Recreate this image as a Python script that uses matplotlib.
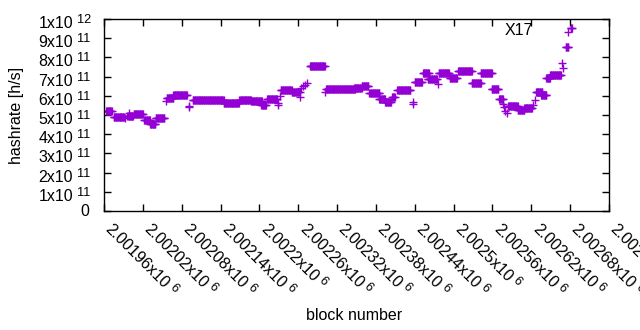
#!/usr/bin/env python3

import matplotlib
matplotlib.use("Agg")
import matplotlib.pyplot as plt
from matplotlib.transforms import offset_copy
import numpy as np

# plateaus of the hashrate estimate: first block, last block, hashrate (x10^11 h/s)
seg_first = [2001963, 2001975, 2001992, 2001996, 2001999, 2002006, 2002022, 2002031,
             2002040, 2002056, 2002057, 2002067, 2002091, 2002092, 2002097, 2002145,
             2002169, 2002187, 2002203, 2002212, 2002228, 2002229, 2002232, 2002233,
             2002250, 2002263, 2002264, 2002267, 2002270, 2002274, 2002278, 2002302,
             2002303, 2002346, 2002358, 2002370, 2002371, 2002385, 2002394, 2002405,
             2002413, 2002437, 2002438, 2002440, 2002453, 2002460, 2002476, 2002477,
             2002494, 2002507, 2002528, 2002542, 2002559, 2002570, 2002576, 2002578,
             2002580, 2002582, 2002584, 2002599, 2002609, 2002623, 2002626, 2002627,
             2002635, 2002643, 2002649, 2002667, 2002669, 2002673, 2002676, 2002681]
seg_last = [2001972, 2001991, 2001992, 2002005, 2001999, 2002020, 2002031, 2002039,
            2002053, 2002056, 2002067, 2002088, 2002091, 2002092, 2002145, 2002168,
            2002187, 2002204, 2002210, 2002227, 2002228, 2002229, 2002232, 2002250,
            2002262, 2002263, 2002264, 2002267, 2002270, 2002274, 2002301, 2002302,
            2002348, 2002358, 2002368, 2002370, 2002385, 2002394, 2002403, 2002409,
            2002433, 2002437, 2002438, 2002451, 2002462, 2002474, 2002476, 2002493,
            2002505, 2002528, 2002542, 2002559, 2002569, 2002576, 2002576, 2002578,
            2002580, 2002582, 2002599, 2002609, 2002621, 2002623, 2002626, 2002637,
            2002643, 2002649, 2002666, 2002667, 2002669, 2002677, 2002676, 2002683]
seg_rate = [5.19, 4.91, 4.86, 4.97, 5.10, 5.03, 4.72, 4.55,
            4.84, 5.75, 5.91, 6.03, 5.47, 5.40, 5.77, 5.61,
            5.77, 5.71, 5.52, 5.83, 5.60, 5.50, 6.00, 6.30,
            6.18, 5.94, 6.40, 6.50, 6.58, 6.67, 7.54, 6.20,
            6.35, 6.42, 6.50, 6.15, 6.13, 5.83, 5.68, 5.94,
            6.32, 5.68, 5.55, 6.72, 7.17, 6.86, 6.61, 7.17,
            6.91, 7.31, 6.66, 7.17, 6.35, 5.83, 5.57, 5.40,
            5.20, 5.10, 5.47, 5.26, 5.36, 5.50, 5.80, 6.20,
            6.04, 6.93, 7.10, 7.70, 7.45, 8.54, 9.34, 9.55]

x_ticks = [2001960 + 60 * k for k in range(14)]
x_tick_text = ["2.00196", "2.00202", "2.00208", "2.00214", "2.0022", "2.00226", "2.00232",
               "2.00238", "2.00244", "2.0025", "2.00256", "2.00262", "2.00268", "2.00274"]
y_ticks = [0, 1e11, 2e11, 3e11, 4e11, 5e11, 6e11, 7e11, 8e11, 9e11, 1e12]
y_tick_base = ["0", "1x10", "2x10", "3x10", "4x10", "5x10", "6x10", "7x10", "8x10", "9x10", "1x10"]
y_tick_exp = ["", "11", "11", "11", "11", "11", "11", "11", "11", "11", "12"]

FS = 11.5
FS_EXP = 9.2
plt.rcParams["font.family"] = ["Liberation Sans", "DejaVu Sans"]

blocks = []
rates = []
for first, last, r in zip(seg_first, seg_last, seg_rate):
    for b in range(first, last + 1):
        blocks.append(b)
        rates.append(r * 1e11)

fig = plt.figure(figsize=(6.4, 3.3), dpi=100)
ax = fig.add_axes([0.1625, 0.3606, 0.7891, 0.5818])

ax.plot(blocks, rates, linestyle="none", marker="+", color="#9400D3",
        markersize=6, markeredgewidth=1.0)

ax.set_xlim(2001960, 2002740)
ax.set_ylim(0, 1e12)
ax.set_xticks(x_ticks)
ax.set_yticks(y_ticks)
ax.set_xticklabels([])
ax.set_yticklabels([])
ax.tick_params(direction="in", length=5, width=1, top=True, right=True, colors="black")
for s in ax.spines.values():
    s.set_linewidth(1)

renderer = fig.canvas.get_renderer()

# y tick labels, gnuplot style "Nx10 ^11"
ytrans = ax.get_yaxis_transform()
for v, base, ex in zip(y_ticks, y_tick_base, y_tick_exp):
    if ex == "":
        ax.text(0, v, base, fontsize=FS, ha="right", va="baseline",
                transform=offset_copy(ytrans, fig, x=-15, y=-5, units="dots"))
        continue
    ax.text(0, v, base, fontsize=FS, ha="right", va="baseline",
            transform=offset_copy(ytrans, fig, x=-31, y=-9, units="dots"))
    ax.text(0, v, ex, fontsize=FS_EXP, ha="left", va="baseline",
            transform=offset_copy(ytrans, fig, x=-27, y=-4, units="dots"))

# x tick labels, rotated -45 degrees
xtrans = ax.get_xaxis_transform()
c = np.sqrt(0.5)
for v, base in zip(x_ticks, x_tick_text):
    base = base + "x10"
    tmp = fig.text(0, 0, base, fontsize=FS)
    w = tmp.get_window_extent(renderer).width
    tmp.remove()
    x0, y0 = 9, -11
    ax.text(v, 0, base, fontsize=FS, rotation=-45, ha="left", va="top",
            rotation_mode="anchor", clip_on=False,
            transform=offset_copy(xtrans, fig, x=x0, y=y0, units="dots"))
    d = w + 3
    ax.text(v, 0, "6", fontsize=FS_EXP, rotation=-45, ha="left", va="top",
            rotation_mode="anchor", clip_on=False,
            transform=offset_copy(xtrans, fig, x=x0 + c * d + c * 2.5,
                                  y=y0 - c * d + c * 2.5, units="dots"))

ax.text(0.822, 0.94, "X17", transform=ax.transAxes, ha="center", va="center", fontsize=FS)

fig.text(17 / 640, 1 - 115 / 330, "hashrate [h/s]", rotation=90, ha="center",
         va="center", fontsize=FS)
fig.text(354 / 640, 1 - 315 / 330, "block number", ha="center", va="center", fontsize=FS)

fig.savefig("out.png", dpi=100)
